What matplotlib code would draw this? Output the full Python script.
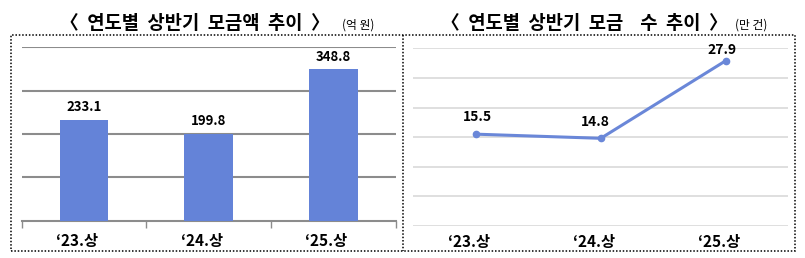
import matplotlib
matplotlib.use("Agg")
import matplotlib.pyplot as plt
from matplotlib.patches import Rectangle
from matplotlib.lines import Line2D
from matplotlib.transforms import ScaledTranslation

plt.rcParams['font.family'] = ['Noto Sans CJK KR', 'DejaVu Sans']

categories = ["‘23.상", "‘24.상", "‘25.상"]
amounts = [233.1, 199.8, 348.8]      # 억 원
counts = [15.5, 14.8, 27.9]          # 만 건
title_left = "〈  연도별  상반기  모금액  추이  〉"
unit_left = "(억 원)"
title_right = "〈  연도별  상반기  모금    수  추이  〉"
unit_right = "(만 건)"

W, H = 805, 258
fig = plt.figure(figsize=(W / 100, H / 100), dpi=100)

def fx(px):
    return px / W

def fy(py):
    return 1 - py / H

bar_color = "#6483D8"
line_color = "#6A87D8"

# outer dotted box with divider
box = Rectangle((fx(11), fy(251)), fx(795) - fx(11), fy(35) - fy(251),
                transform=fig.transFigure, fill=False, ec="black", lw=1.1,
                ls=(0, (1, 1.2)))
fig.patches.append(box)
fig.lines.append(Line2D([fx(403.3), fx(403.3)], [fy(35), fy(251)],
                        transform=fig.transFigure, color="black", lw=1.1,
                        ls=(0, (1, 1.2))))

shift = ScaledTranslation(-7 / 100, 0, fig.dpi_scale_trans)

# ---- left bar chart
axL = fig.add_axes([fx(21.7), fy(220.7), fx(395.7) - fx(21.7), fy(47.1) - fy(220.7)])
x = range(len(categories))
axL.bar(x, amounts, width=0.39, color=bar_color, zorder=3)
axL.set_ylim(0, 400)
axL.set_xlim(-0.5, 2.5)
axL.set_yticks([100, 200, 300, 400])
axL.yaxis.grid(True, color="#8c8c8c", lw=1.5, zorder=0)
axL.tick_params(axis='y', left=False, labelleft=False)
for s in ["top", "right", "left"]:
    axL.spines[s].set_visible(False)
axL.spines["bottom"].set_color("#8c8c8c")
axL.spines["bottom"].set_linewidth(1.5)
axL.set_xticks([-0.5, 0.5, 1.5, 2.5], minor=False)
axL.set_xticklabels([])
axL.tick_params(axis='x', which='major', length=5, width=1, color="#8c8c8c", direction="out")
axL.set_xticks(list(x), minor=True)
axL.set_xticklabels(categories, minor=True, fontsize=11, fontweight="bold")
axL.tick_params(axis='x', which='minor', length=0, pad=9)
for lab in axL.get_xticklabels(minor=True):
    lab.set_transform(lab.get_transform() + shift)
for i, v in enumerate(amounts):
    axL.annotate(f"{v:.1f}", (i, v), xytext=(0, 4), textcoords="offset points",
                 ha="center", va="bottom", fontsize=9.5, fontweight="bold")

# ---- right line chart
axR = fig.add_axes([fx(413.3), fy(226), fx(788.3) - fx(413.3), fy(48.25) - fy(226)])
axR.plot(list(x), counts, color=line_color, lw=2.2, marker="o", ms=4.5, zorder=3)
axR.set_ylim(0, 30)
axR.set_xlim(-0.5, 2.5)
axR.set_yticks([0, 5, 10, 15, 20, 25, 30])
axR.yaxis.grid(True, color="#d9d9d9", lw=1.2, zorder=0)
axR.tick_params(axis='y', left=False, labelleft=False)
for s in ["top", "right", "left", "bottom"]:
    axR.spines[s].set_visible(False)
axR.set_xticks(list(x))
axR.set_xticklabels(categories, fontsize=11, fontweight="bold")
axR.tick_params(axis='x', length=0, pad=6)
for lab in axR.get_xticklabels():
    lab.set_transform(lab.get_transform() + shift)
offsets = [(1, 7), (-4, 7), (-3, 3)]
for i, v in enumerate(counts):
    axR.annotate(f"{v:.1f}", (i, v), xytext=offsets[i], textcoords="offset points",
                 ha="center", va="bottom", fontsize=10, fontweight="bold")

# ---- titles
fig.text(fx(195), fy(24), title_left, ha="center", va="center", fontsize=13.5, fontweight="bold")
fig.text(fx(342), fy(25), unit_left, ha="left", va="center", fontsize=8.5)
fig.text(fx(584), fy(24), title_right, ha="center", va="center", fontsize=13.5, fontweight="bold")
fig.text(fx(735), fy(25), unit_right, ha="left", va="center", fontsize=8.5)

fig.savefig("out.png", dpi=100)
